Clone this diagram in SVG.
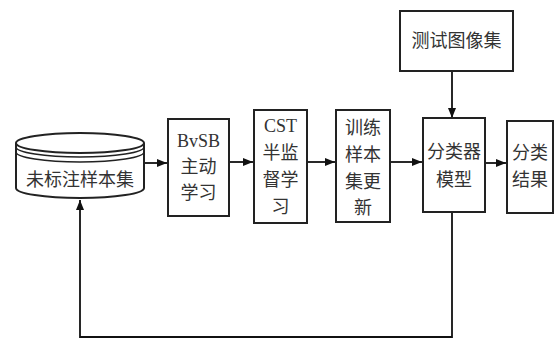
<svg xmlns="http://www.w3.org/2000/svg" width="555" height="340" viewBox="0 0 555 340">
<style>
.box{fill:#fff;stroke:#222;stroke-width:2}
.t{font-family:"Liberation Serif","Noto Sans CJK SC",serif;font-size:18px;fill:#333;text-anchor:middle;dominant-baseline:central}
.e{fill:none;stroke:#111;stroke-width:1.8}
</style>
<defs>
<marker id="ah" viewBox="0 0 10 8" refX="10" refY="4" markerWidth="10" markerHeight="8" markerUnits="userSpaceOnUse" orient="auto">
<path d="M0,0 L10,4 L0,8 z" fill="#111"/>
</marker>
</defs>
<rect width="555" height="340" fill="#fff"/>
<g id="connectors">
<line class="e" x1="144" y1="163" x2="167" y2="163" marker-end="url(#ah)"/>
<line class="e" x1="229" y1="162" x2="253" y2="162" marker-end="url(#ah)"/>
<line class="e" x1="307" y1="162" x2="335" y2="162" marker-end="url(#ah)"/>
<line class="e" x1="390" y1="162" x2="422" y2="162" marker-end="url(#ah)"/>
<line class="e" x1="485" y1="163" x2="506" y2="163" marker-end="url(#ah)"/>
<line class="e" x1="452" y1="71" x2="452" y2="118" marker-end="url(#ah)"/>
<path class="e" d="M452,213 V337 H80 V200" marker-end="url(#ah)"/>
</g>
<g id="unlabeled">
<path d="M16,143 V188 A64,10 0 0 0 144,188 V143" fill="#fff" stroke="#222" stroke-width="2"/>
<ellipse cx="80" cy="143" rx="64" ry="10" fill="#fff" stroke="#222" stroke-width="2"/>
<path d="M16,147 A64,10 0 0 0 144,147" fill="none" stroke="#222" stroke-width="1.5"/>
<path d="M16,152 A64,10 0 0 0 144,152" fill="none" stroke="#222" stroke-width="1.5"/>
<text class="t" x="80" y="180">未标注样本集</text>
</g>
<g id="bvsb">
<rect class="box" x="168" y="119" width="61" height="97"/>
<text class="t" x="198.5" y="141">BvSB</text>
<text class="t" x="198.5" y="167">主动</text>
<text class="t" x="198.5" y="193">学习</text>
</g>
<g id="cst">
<rect class="box" x="254" y="110" width="53" height="113"/>
<text class="t" x="280.5" y="126">CST</text>
<text class="t" x="280.5" y="153">半监</text>
<text class="t" x="280.5" y="180">督学</text>
<text class="t" x="280.5" y="207">习</text>
</g>
<g id="update">
<rect class="box" x="336" y="110" width="54" height="112"/>
<text class="t" x="363" y="128">训练</text>
<text class="t" x="363" y="155">样本</text>
<text class="t" x="363" y="182">集更</text>
<text class="t" x="363" y="208">新</text>
</g>
<g id="test">
<rect class="box" x="400" y="11" width="113" height="60"/>
<text class="t" x="456.5" y="41">测试图像集</text>
</g>
<g id="classifier">
<rect class="box" x="423" y="118" width="62" height="94"/>
<text class="t" x="454" y="152">分类器</text>
<text class="t" x="454" y="180">模型</text>
</g>
<g id="result">
<rect class="box" x="507" y="121" width="46" height="92"/>
<text class="t" x="530" y="153">分类</text>
<text class="t" x="530" y="180">结果</text>
</g>
</svg>
